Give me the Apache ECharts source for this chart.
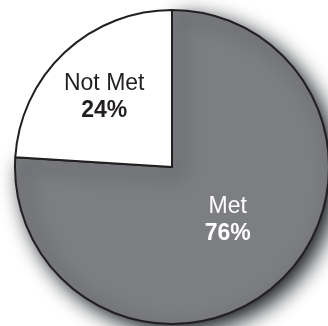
<!DOCTYPE html>
<html><head><meta charset="utf-8">
<script src="https://cdn.jsdelivr.net/npm/echarts@6/dist/echarts.min.js"></script>
<style>html,body{margin:0;padding:0;background:#fff}#c{width:328px;height:326px}</style>
</head><body><div id="c"></div>
<script>
const categories = ['Met', 'Not Met'];
const values = [76, 24];

const colors = { 'Met': '#7d7e82', 'Not Met': '#ffffff' };
const labelColors = { 'Met': '#ffffff', 'Not Met': '#231f20' };
const labelOffsets = { 'Met': [0, -6], 'Not Met': [-12, -10] };

const chart = echarts.init(document.getElementById('c'), null, { renderer: 'canvas' });
const data = categories.map((c, i) => ({
  name: c,
  value: values[i],
  itemStyle: Object.assign({ color: colors[c] }, c === 'Met' ? {
    shadowBlur: 20, shadowOffsetX: 7, shadowOffsetY: 7, shadowColor: 'rgba(20,25,30,1)'
  } : {}),
  label: {
    offset: labelOffsets[c],
    rich: {
      n: { fontFamily: 'Liberation Sans, Arial, sans-serif', fontSize: 23, color: labelColors[c], lineHeight: 27, align: 'center' },
      v: { fontFamily: 'Liberation Sans, Arial, sans-serif', fontSize: 23, fontWeight: 'bold', color: labelColors[c], lineHeight: 27, align: 'center' }
    }
  }
}));

chart.setOption({
  backgroundColor: '#ffffff',
  animation: false,
  series: [{
    type: 'pie',
    center: [172, 167],
    radius: [0, 157],
    startAngle: 90,
    clockwise: true,
    silent: true,
    itemStyle: { borderColor: '#231f20', borderWidth: 2 },
    label: {
      show: true,
      position: 'inside',
      formatter: p => '{n|' + p.name + '}\n{v|' + p.value + '%}'
    },
    labelLine: { show: false },
    data: data
  }]
});
</script></body></html>
